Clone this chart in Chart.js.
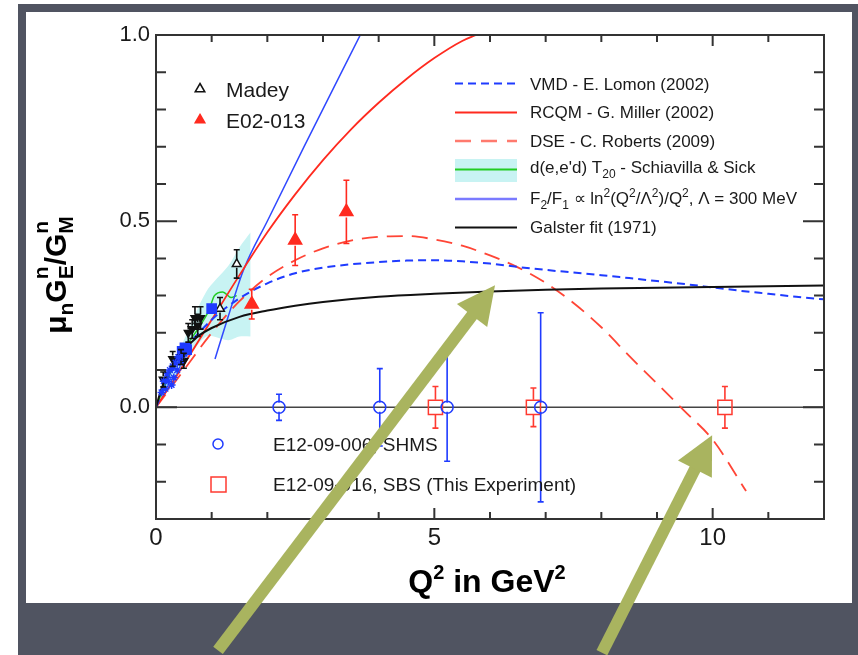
<!DOCTYPE html>
<html>
<head>
<meta charset="utf-8">
<title>mu_n GEn/GMn vs Q2</title>
<script src="https://cdn.jsdelivr.net/npm/chart.js@4.4.0/dist/chart.umd.min.js"></script>
<style>
  html, body { margin: 0; padding: 0; background: #fff; }
  canvas { display: block; }
</style>
</head>
<body>
<canvas id="chart" width="858" height="655"></canvas>
<script>
// values (Q^2 in GeV^2, ratio mu_n GEn/GMn)
const galsterQ2 = [0, 0.1, 0.25, 0.5, 0.75, 1, 1.5, 2, 2.5, 3, 4, 5, 6, 7, 8, 9, 10, 11, 12];
const galsterR  = [0, 0.05, 0.1, 0.152, 0.19, 0.213, 0.243, 0.26, 0.273, 0.283, 0.297, 0.305, 0.311, 0.316, 0.319, 0.321, 0.323, 0.325, 0.327];

const vmdQ2 = [0, 0.25, 0.5, 1, 1.45, 2, 2.5, 3, 3.5, 4, 4.5, 5, 5.5, 6, 6.5, 7, 7.5, 8, 8.5, 9, 9.5, 10, 10.5, 11, 11.5, 12];
const vmdR  = [0, 0.085, 0.15, 0.235, 0.288, 0.333, 0.36, 0.375, 0.384, 0.39, 0.394, 0.395, 0.392, 0.386, 0.377, 0.369, 0.362, 0.355, 0.347, 0.339, 0.331, 0.322, 0.313, 0.305, 0.297, 0.29];

const rcqmQ2 = [0, 0.5, 1, 1.5, 2, 2.5, 3, 3.5, 4, 4.5, 5, 5.5, 5.75];
const rcqmR  = [0, 0.115, 0.235, 0.355, 0.47, 0.572, 0.664, 0.746, 0.818, 0.882, 0.938, 0.984, 1.0];

const dseQ2 = [0, 0.5, 1, 1.5, 2, 2.5, 3, 3.5, 4, 4.5, 5, 5.5, 6, 6.5, 7, 7.5, 8, 8.5, 9, 9.5, 10, 10.6];
const dseR  = [0, 0.1, 0.2, 0.285, 0.35, 0.395, 0.427, 0.448, 0.458, 0.46, 0.451, 0.434, 0.408, 0.376, 0.334, 0.28, 0.215, 0.138, 0.064, -0.011, -0.087, -0.225];

const f2f1Q2 = [1.06, 1.3, 1.57, 2.01, 2.66, 3.67];
const f2f1R  = [0.13, 0.245, 0.368, 0.503, 0.70, 1.0];

const t20Q2 = [0, 0.25, 0.5, 0.75, 0.95, 1.05, 1.2, 1.35, 1.45];
const t20R  = [0, 0.09, 0.155, 0.21, 0.26, 0.3, 0.31, 0.295, 0.3];
const bandQ2   = [0.1, 0.5, 0.9, 1.3, 1.5, 1.7];
const bandLow  = [0.02, 0.11, 0.19, 0.18, 0.19, 0.19];
const bandHigh = [0.06, 0.18, 0.31, 0.38, 0.43, 0.47];

// measured data
const madeyQ2 = [1.15, 1.45];
const madeyR  = [0.265, 0.385];
const madeyErr = [0.03, 0.038];

const e02Q2 = [1.72, 2.5, 3.42];
const e02R  = [0.277, 0.449, 0.525];
const e02Err = [0.04, 0.068, 0.085];

const worldStarQ2 = [0.1, 0.14, 0.17, 0.2, 0.22, 0.25, 0.28, 0.3, 0.32, 0.35, 0.38, 0.4, 0.43, 0.47];
const worldStarR  = [0.04, 0.07, 0.05, 0.09, 0.07, 0.1, 0.06, 0.11, 0.08, 0.12, 0.1, 0.135, 0.12, 0.14];
const worldTriQ2 = [0.13, 0.3, 0.45, 0.5, 0.58, 0.65, 0.7, 0.75, 0.8];
const worldTriR  = [0.075, 0.13, 0.135, 0.125, 0.2, 0.21, 0.24, 0.22, 0.24];
const worldTriErr = [0.02, 0.02, 0.02, 0.02, 0.025, 0.025, 0.03, 0.03, 0.03];
const worldSqQ2 = [0.47, 0.52, 0.55, 1.0];
const worldSqR  = [0.15, 0.16, 0.155, 0.265];

// projected errors at zero
const shmsQ2 = [2.21, 4.02, 5.23, 6.91];
const shmsR  = [0, 0, 0, 0];
const shmsErr = [0.035, 0.104, 0.145, 0.254];
const sbsQ2 = [5.02, 6.78, 10.22];
const sbsR  = [0, 0, 0];
const sbsErr = [0.056, 0.052, 0.056];

// slide arrows, in data units: [tailQ2, tailR, tipQ2, tipR]
const arrows = [[1.114, -0.653, 6.09, 0.328], [8.01, -0.659, 9.99, -0.075]];

const FONT = 'Liberation Sans, Arial, Helvetica, sans-serif';
const BLUE = '#1f3bff', RED = '#ff2a1f';

function pts(xs, ys) { return xs.map((x, i) => ({ x: x, y: ys[i] })); }

function curve(xs, ys, color, width, dash, order) {
  return {
    data: pts(xs, ys), showLine: true, borderColor: color, borderWidth: width,
    borderDash: dash || [], pointRadius: 0, fill: false, order: order,
    cubicInterpolationMode: 'monotone'
  };
}

function marks(xs, ys, style, r, stroke, fillc, err, rot) {
  return {
    data: pts(xs, ys), showLine: false, pointStyle: style, pointRadius: r,
    pointBorderColor: stroke, pointBackgroundColor: fillc, pointBorderWidth: 1.5,
    pointRotation: rot || 0, errors: err, errColor: stroke, order: 1
  };
}

const datasets = [
  { data: pts(bandQ2, bandLow), showLine: true, borderWidth: 0, borderColor: 'rgba(0,0,0,0)', pointRadius: 0, fill: false, order: 30, tension: 0.3 },
  { data: pts(bandQ2, bandHigh), showLine: true, borderWidth: 0, borderColor: 'rgba(0,0,0,0)', pointRadius: 0, fill: '-1', backgroundColor: '#c8f3f3', order: 29, tension: 0.3 },
  curve([0, 12], [0, 0], '#444', 1.5, null, 20),
  curve(t20Q2, t20R, '#22cc22', 1.5, null, 12),
  curve(galsterQ2, galsterR, '#111', 2, null, 10),
  curve(vmdQ2, vmdR, BLUE, 2, [8, 5], 10),
  curve(rcqmQ2, rcqmR, RED, 1.8, null, 10),
  curve(dseQ2, dseR, '#ff4536', 1.8, [16, 9], 10),
  curve(f2f1Q2, f2f1R, '#3048ff', 1.5, null, 10),
  marks(worldStarQ2, worldStarR, 'star', 4, BLUE, BLUE),
  marks(worldTriQ2, worldTriR, 'triangle', 4.5, '#111', '#111', worldTriErr, 180),
  marks(worldSqQ2, worldSqR, 'rect', 6.5, BLUE, BLUE),
  marks(madeyQ2, madeyR, 'triangle', 5, '#111', '#fff', madeyErr),
  marks(e02Q2, e02R, 'triangle', 7.5, RED, RED, e02Err),
  marks(shmsQ2, shmsR, 'circle', 6, BLUE, 'rgba(0,0,0,0)', shmsErr),
  marks(sbsQ2, sbsR, 'rect', 10, '#ff3a30', 'rgba(0,0,0,0)', sbsErr)
];

function isHalf(v) { return Math.abs(v * 2 - Math.round(v * 2)) < 1e-6; }

// draw a run of text pieces with sub/superscripts starting at x, baseline y
function richWidth(ctx, parts) {
  let w = 0, keep = 0;
  parts.forEach(p => {
    ctx.font = p.f;
    const pw = ctx.measureText(p.t).width;
    if (p.stack) { keep = pw; } else { w += Math.max(pw, keep); keep = 0; }
  });
  return w;
}
function drawRich(ctx, parts, x, y) {
  let keep = 0;
  parts.forEach(p => {
    ctx.font = p.f;
    ctx.fillText(p.t, x, y + (p.dy || 0));
    const pw = ctx.measureText(p.t).width;
    if (p.stack) { keep = pw; } else { x += Math.max(pw, keep); keep = 0; }
  });
}

const slide = {
  id: 'slide',
  beforeDraw(chart) {
    const ctx = chart.ctx;
    ctx.save();
    ctx.fillStyle = '#fff';
    ctx.fillRect(0, 0, chart.width, chart.height);
    ctx.fillStyle = '#505461';
    ctx.fillRect(18, 4, chart.width - 18, chart.height - 4);
    ctx.fillStyle = '#fff';
    ctx.fillRect(26, 12, 826, 591);
    ctx.restore();
  },
  afterDatasetsDraw(chart) {
    const ctx = chart.ctx;
    const ys = chart.scales.y;
    ctx.save();
    chart.data.datasets.forEach((ds, i) => {
      if (!ds.errors) return;
      const meta = chart.getDatasetMeta(i);
      ctx.strokeStyle = ds.errColor;
      ctx.lineWidth = 1.6;
      meta.data.forEach((pt, j) => {
        const v = ds.data[j].y, e = ds.errors[j];
        const top = ys.getPixelForValue(v + e), bot = ys.getPixelForValue(v - e);
        const r = ds.pointRadius * 0.75;
        ctx.beginPath();
        ctx.moveTo(pt.x, top); ctx.lineTo(pt.x, pt.y - r);
        ctx.moveTo(pt.x, pt.y + r); ctx.lineTo(pt.x, bot);
        ctx.moveTo(pt.x - 3, top); ctx.lineTo(pt.x + 3, top);
        ctx.moveTo(pt.x - 3, bot); ctx.lineTo(pt.x + 3, bot);
        ctx.stroke();
      });
    });
    ctx.restore();
  },
  afterDraw(chart) {
    const ctx = chart.ctx;
    const a = chart.chartArea;
    const xs = chart.scales.x, ys = chart.scales.y;
    ctx.save();

    // frame and inward ticks
    ctx.strokeStyle = '#333';
    ctx.lineWidth = 2;
    ctx.strokeRect(a.left, a.top, a.right - a.left, a.bottom - a.top);
    ctx.beginPath();
    for (let k = 0; k <= 12; k++) {
      const px = xs.getPixelForValue(k);
      const len = k % 5 === 0 ? 11 : 7;
      ctx.moveTo(px, a.bottom); ctx.lineTo(px, a.bottom - len);
      ctx.moveTo(px, a.top); ctx.lineTo(px, a.top + len);
    }
    for (let k = -3; k <= 10; k++) {
      const py = ys.getPixelForValue(k / 10);
      const len = k % 5 === 0 ? 21 : 10;
      ctx.moveTo(a.left, py); ctx.lineTo(a.left + len, py);
      ctx.moveTo(a.right, py); ctx.lineTo(a.right - len, py);
    }
    ctx.stroke();

    ctx.fillStyle = '#1a1a1a';
    ctx.textBaseline = 'alphabetic';
    ctx.textAlign = 'left';

    // top-left legend
    const tri = (x, y, r, stroke, fill) => {
      ctx.beginPath();
      ctx.moveTo(x, y - r); ctx.lineTo(x + r * 0.87, y + r * 0.5); ctx.lineTo(x - r * 0.87, y + r * 0.5); ctx.closePath();
      if (fill) { ctx.fillStyle = fill; ctx.fill(); }
      ctx.strokeStyle = stroke; ctx.lineWidth = 1.5; ctx.stroke();
    };
    tri(200, 89, 5.5, '#111', null);
    tri(200, 120, 5.5, RED, RED);
    ctx.fillStyle = '#1a1a1a';
    ctx.font = '21px ' + FONT;
    ctx.fillText('Madey', 226, 97);
    ctx.fillText('E02-013', 226, 128);

    // right legend
    const lx0 = 455, lx1 = 517, tx = 530;
    ctx.fillStyle = '#c8f3f3';
    ctx.fillRect(lx0, 159, lx1 - lx0, 23);
    const sample = (y, color, w, dash) => {
      ctx.beginPath();
      ctx.setLineDash(dash || []);
      ctx.strokeStyle = color; ctx.lineWidth = w;
      ctx.moveTo(lx0, y); ctx.lineTo(lx1, y); ctx.stroke();
      ctx.setLineDash([]);
    };
    sample(83.5, BLUE, 2, [8, 5]);
    sample(112.5, RED, 2);
    sample(141, '#ff7a6e', 2.5, [16, 10]);
    sample(169.5, '#22cc22', 2);
    sample(199, '#7a7aff', 2.5);
    sample(227.5, '#111', 2);
    const f = '17px ' + FONT, s = '12px ' + FONT;
    ctx.fillStyle = '#1a1a1a';
    drawRich(ctx, [{ t: 'VMD - E. Lomon (2002)', f: f }], tx, 90);
    drawRich(ctx, [{ t: 'RCQM - G. Miller (2002)', f: f }], tx, 118);
    drawRich(ctx, [{ t: 'DSE - C. Roberts (2009)', f: f }], tx, 147);
    drawRich(ctx, [{ t: "d(e,e'd) T", f: f }, { t: '20', f: s, dy: 5 }, { t: ' - Schiavilla & Sick', f: f }], tx, 173);
    drawRich(ctx, [
      { t: 'F', f: f }, { t: '2', f: s, dy: 5 }, { t: '/F', f: f }, { t: '1', f: s, dy: 5 },
      { t: ' \u221D ln', f: f }, { t: '2', f: s, dy: -7 }, { t: '(Q', f: f }, { t: '2', f: s, dy: -7 },
      { t: '/\u039B', f: f }, { t: '2', f: s, dy: -7 }, { t: ')/Q', f: f }, { t: '2', f: s, dy: -7 },
      { t: ', \u039B = 300 MeV', f: f }
    ], tx, 204);
    drawRich(ctx, [{ t: 'Galster fit (1971)', f: f }], tx, 233);

    // bottom-left legend
    ctx.strokeStyle = BLUE; ctx.lineWidth = 1.5;
    ctx.beginPath(); ctx.arc(218, 444, 5, 0, Math.PI * 2); ctx.stroke();
    ctx.strokeStyle = '#ff3a30';
    ctx.strokeRect(211, 477, 15, 15);
    ctx.fillStyle = '#1a1a1a';
    ctx.font = '19px ' + FONT;
    ctx.fillText('E12-09-006, SHMS', 273, 451);
    ctx.fillText('E12-09-016, SBS (This Experiment)', 273, 491);

    // axis titles
    const xb = 'bold 32px ' + FONT, xs2 = 'bold 20px ' + FONT;
    const xparts = [{ t: 'Q', f: xb }, { t: '2', f: xs2, dy: -13 }, { t: ' in GeV', f: xb }, { t: '2', f: xs2, dy: -13 }];
    ctx.fillStyle = '#000';
    drawRich(ctx, xparts, 487 - richWidth(ctx, xparts) / 2, 592);

    const yb = 'bold 30px ' + FONT, ysb = 'bold 21px ' + FONT;
    const yparts = [
      { t: '\u03BC', f: yb }, { t: 'n', f: ysb, dy: 7 },
      { t: 'G', f: yb }, { t: 'E', f: ysb, dy: 7, stack: true }, { t: 'n', f: ysb, dy: -18 },
      { t: '/G', f: yb }, { t: 'M', f: ysb, dy: 7, stack: true }, { t: 'n', f: ysb, dy: -18 }
    ];
    ctx.save();
    ctx.translate(66, 275);
    ctx.rotate(-Math.PI / 2);
    drawRich(ctx, yparts, -richWidth(ctx, yparts) / 2, 0);
    ctx.restore();

    // green arrows on the slide
    ctx.fillStyle = '#a9b45f';
    ctx.strokeStyle = '#a9b45f';
    arrows.forEach(ar => {
      const x0 = xs.getPixelForValue(ar[0]), y0 = ys.getPixelForValue(ar[1]);
      const x1 = xs.getPixelForValue(ar[2]), y1 = ys.getPixelForValue(ar[3]);
      const dx = x1 - x0, dy = y1 - y0, L = Math.hypot(dx, dy);
      const ux = dx / L, uy = dy / L, nx = -uy, ny = ux;
      const hl = 38, hw = 19;
      const bx = x1 - ux * hl, by = y1 - uy * hl;
      ctx.lineWidth = 12;
      ctx.lineCap = 'butt';
      ctx.beginPath(); ctx.moveTo(x0, y0); ctx.lineTo(bx + ux * 2, by + uy * 2); ctx.stroke();
      ctx.beginPath();
      ctx.moveTo(x1, y1);
      ctx.lineTo(bx + nx * hw, by + ny * hw);
      ctx.lineTo(bx - nx * hw, by - ny * hw);
      ctx.closePath(); ctx.fill();
    });
    ctx.restore();
  }
};

new Chart(document.getElementById('chart'), {
  type: 'scatter',
  data: { datasets: datasets },
  options: {
    responsive: false,
    animation: false,
    layout: { padding: { left: 96, top: 35, right: 34, bottom: 96 } },
    plugins: { legend: { display: false }, tooltip: { enabled: false } },
    scales: {
      x: {
        type: 'linear', min: 0, max: 12,
        grid: { display: false, drawTicks: false },
        border: { display: false },
        ticks: {
          stepSize: 1, autoSkip: false, maxRotation: 0, padding: 5, color: '#1a1a1a',
          font: { size: 24, family: FONT },
          callback: v => (v % 5 === 0 ? String(v) : '')
        },
        afterFit: s => { s.height = 40; }
      },
      y: {
        type: 'linear', min: -0.3, max: 1.0,
        grid: { display: false, drawTicks: false },
        border: { display: false },
        ticks: {
          stepSize: 0.1, autoSkip: false, padding: 6, color: '#1a1a1a',
          font: { size: 22, family: FONT },
          callback: v => (isHalf(v) ? v.toFixed(1) : '')
        },
        afterFit: s => { s.width = 60; }
      }
    }
  },
  plugins: [slide]
});
</script>
</body>
</html>
